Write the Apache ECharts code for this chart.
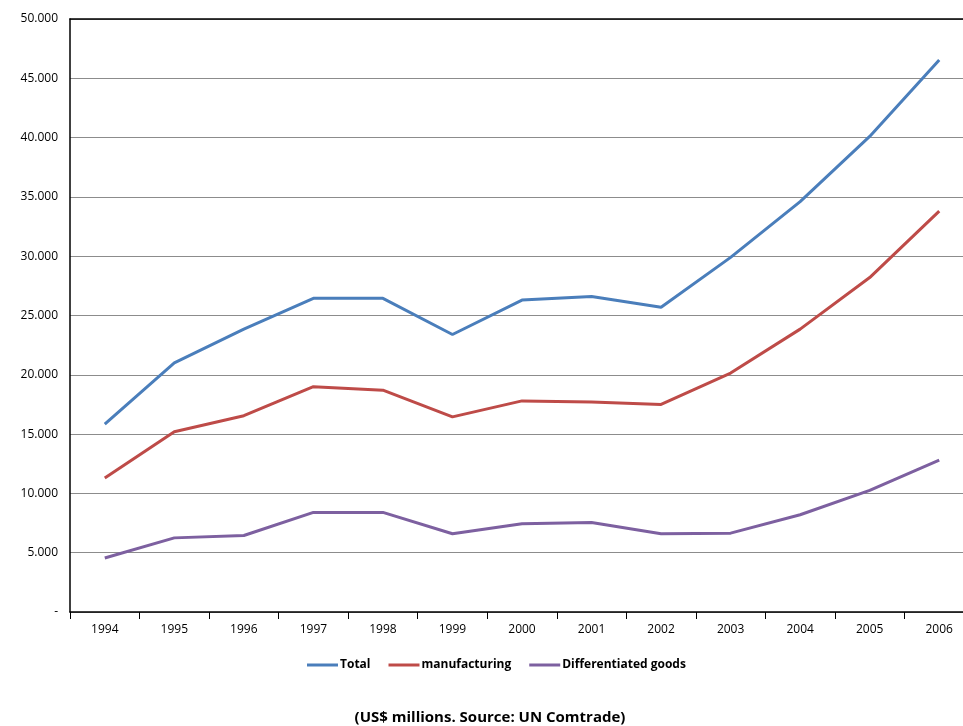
<!DOCTYPE html>
<html>
<head>
<meta charset="utf-8">
<script src="https://cdn.jsdelivr.net/npm/echarts@6/dist/echarts.min.js"></script>
<style>
  html, body { margin: 0; padding: 0; background: #fff; }
  #chart { width: 963px; height: 726px; }
</style>
</head>
<body>
<div id="chart"></div>
<script>
// Years on the category axis
const years = ['1994','1995','1996','1997','1998','1999','2000','2001','2002','2003','2004','2005','2006'];

// Exports, US$ millions
const totalValues = [15850, 21000, 23850, 26450, 26450, 23400, 26300, 26600, 25700, 29900, 34600, 40100, 46550];
const manufacturingValues = [11300, 15200, 16550, 19000, 18700, 16450, 17800, 17700, 17500, 20150, 23850, 28200, 33800];
const differentiatedValues = [4550, 6250, 6450, 8400, 8400, 6600, 7450, 7550, 6600, 6650, 8200, 10250, 12800];

const seriesNames = ['Total', 'manufacturing', 'Differentiated goods'];
const seriesColors = ['#4a7ebb', '#be4b48', '#7d60a0'];
const caption = '(US$ millions. Source: UN Comtrade)';

const font = '"Open Sans", "Noto Sans", sans-serif';

function fmtThousands(v) {
  if (v === 0) return '-';
  return String(v).replace(/\B(?=(\d{3})+(?!\d))/g, '.');
}

const chart = echarts.init(document.getElementById('chart'), null, { renderer: 'canvas' });

const lineSeries = [totalValues, manufacturingValues, differentiatedValues].map((data, i) => ({
  name: seriesNames[i],
  type: 'line',
  data: data,
  symbol: 'none',
  lineStyle: { width: 3, color: seriesColors[i] },
  itemStyle: { color: seriesColors[i] },
  z: 3 - i + 2
}));

chart.setOption({
  animation: false,
  backgroundColor: '#fff',
  // the plot runs slightly past the right edge of the canvas
  grid: { left: 70, top: 19, width: 904, height: 593, containLabel: false, outerBoundsMode: 'none' },
  title: {
    text: caption,
    left: 485,
    textAlign: 'center',
    top: 705,
    textStyle: { fontFamily: font, fontSize: 15, fontWeight: 'bold', color: '#000' }
  },
  legend: {
    data: seriesNames,
    left: 302,
    top: 654,
    itemWidth: 31,
    itemHeight: 3,
    itemGap: 18,
    icon: 'rect',
    textStyle: { fontFamily: font, fontSize: 12, fontWeight: 'bold', color: '#000', padding: [0, 0, 0, -3] }
  },
  xAxis: [{
    type: 'category',
    data: years,
    boundaryGap: true,
    axisLine: { lineStyle: { color: '#000', width: 1.5 } },
    axisTick: { show: true, length: 7, interval: 0, lineStyle: { color: '#000', width: 1 } },
    axisLabel: { fontFamily: font, fontSize: 12, color: '#000', margin: 12, interval: 0 },
    splitLine: { show: false }
  }, {
    type: 'category',
    data: years,
    position: 'top',
    axisLine: { show: true, lineStyle: { color: '#000', width: 1.5 } },
    axisTick: { show: false },
    axisLabel: { show: false },
    splitLine: { show: false }
  }],
  yAxis: {
    type: 'value',
    min: 0,
    max: 50000,
    interval: 5000,
    axisLine: { show: true, lineStyle: { color: '#000', width: 1.5 } },
    axisTick: { show: false },
    axisLabel: { fontFamily: font, fontSize: 12, color: '#000', margin: 12, formatter: fmtThousands },
    splitLine: { show: true, lineStyle: { color: '#8c8c8c', width: 1 } }
  },
  series: lineSeries
});
</script>
</body>
</html>
